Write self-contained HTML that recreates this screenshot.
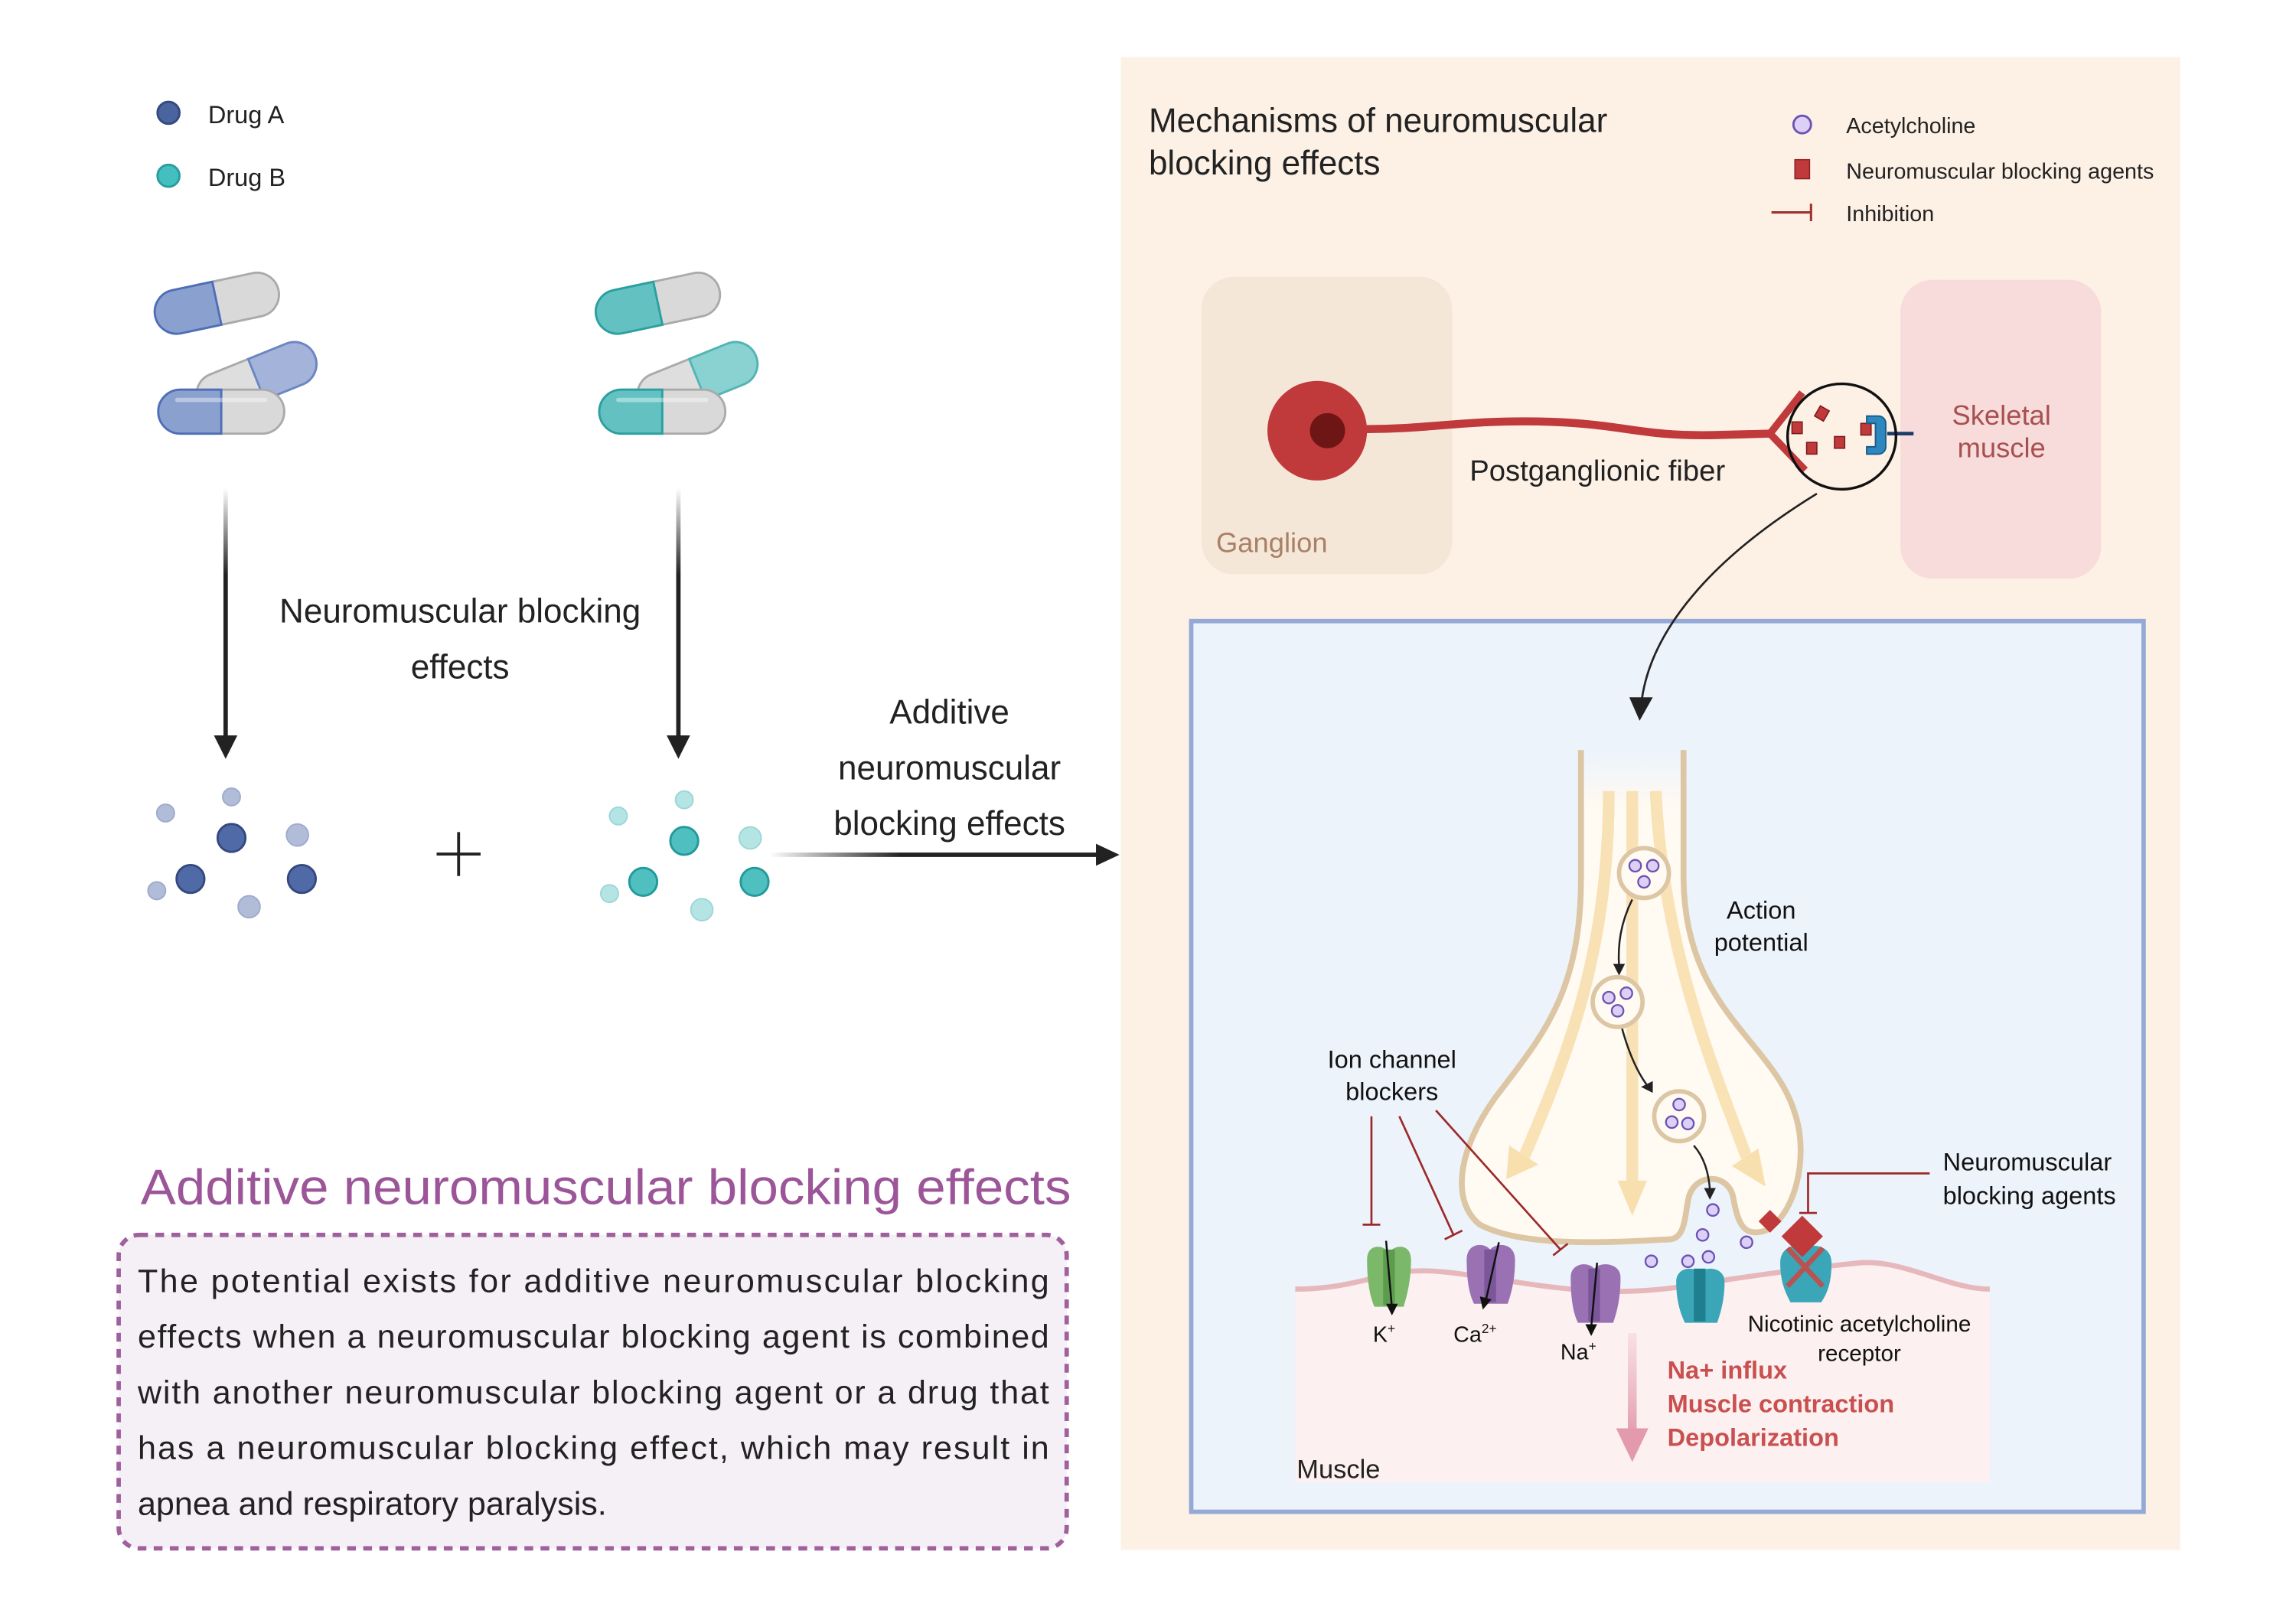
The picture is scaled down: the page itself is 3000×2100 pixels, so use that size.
<!DOCTYPE html>
<html><head><meta charset="utf-8"><style>
html,body{margin:0;padding:0;background:#fff}
svg{display:block}
text{font-family:"Liberation Sans",sans-serif}
</style></head><body>
<svg width="3000" height="2100" viewBox="0 0 1567 1097" preserveAspectRatio="none" xmlns="http://www.w3.org/2000/svg">
<defs>
<linearGradient id="fadeV" x1="0" y1="0" x2="0" y2="1"><stop offset="0" stop-color="#222" stop-opacity="0"/><stop offset="0.35" stop-color="#222"/></linearGradient>
<linearGradient id="fadeH" x1="0" y1="0" x2="1" y2="0"><stop offset="0" stop-color="#222" stop-opacity="0"/><stop offset="0.4" stop-color="#222"/></linearGradient>
<linearGradient id="pinkA" x1="0" y1="0" x2="0" y2="1"><stop offset="0" stop-color="#e7a3b3" stop-opacity="0.2"/><stop offset="1" stop-color="#e29aac"/></linearGradient>
<linearGradient id="axon" x1="0" y1="0" x2="0" y2="1"><stop offset="0" stop-color="#fffaf2" stop-opacity="0"/><stop offset="0.12" stop-color="#fffaf2"/></linearGradient>
</defs>

<circle cx="115" cy="77" r="7.5" fill="#4a64a0" stroke="#34497e" stroke-width="1.5"/>
<text x="142" y="84" font-size="17" fill="#222">Drug A</text>
<circle cx="115" cy="120" r="7.5" fill="#43bfbf" stroke="#2a9c9c" stroke-width="1.5"/>
<text x="142" y="127" font-size="17" fill="#222">Drug B</text>

<g transform="translate(148,207) rotate(-12)">
<rect x="-43" y="-15" width="86" height="30" rx="15" fill="#d9d9d9" stroke="#aaa" stroke-width="1.5"/>
<path d="M0,-15 H-28 A15,15 0 0 0 -28,15 H0 Z" fill="#8aa0cf" stroke="#4e6fb8" stroke-width="1.5"/>
</g>
<g transform="translate(175,259) rotate(-22)">
<rect x="-43" y="-15" width="86" height="30" rx="15" fill="#dedede" stroke="#aaa" stroke-width="1.5"/>
<path d="M0,-15 H28 A15,15 0 0 1 28,15 H0 Z" fill="#a3b3d9" stroke="#6b86c2" stroke-width="1.5"/>
</g>
<g transform="translate(151,281)">
<rect x="-43" y="-15" width="86" height="30" rx="15" fill="#d9d9d9" stroke="#aaa" stroke-width="1.5"/>
<path d="M0,-15 H-28 A15,15 0 0 0 -28,15 H0 Z" fill="#8aa0cf" stroke="#4e6fb8" stroke-width="1.5"/>
<line x1="-30" y1="-8" x2="30" y2="-8" stroke="#fff" stroke-opacity="0.4" stroke-width="3" stroke-linecap="round"/>
</g>
<g transform="translate(449,207) rotate(-12)">
<rect x="-43" y="-15" width="86" height="30" rx="15" fill="#d9d9d9" stroke="#aaa" stroke-width="1.5"/>
<path d="M0,-15 H-28 A15,15 0 0 0 -28,15 H0 Z" fill="#63c1c1" stroke="#2aa0a0" stroke-width="1.5"/>
</g>
<g transform="translate(476,259) rotate(-22)">
<rect x="-43" y="-15" width="86" height="30" rx="15" fill="#dedede" stroke="#aaa" stroke-width="1.5"/>
<path d="M0,-15 H28 A15,15 0 0 1 28,15 H0 Z" fill="#8ad1d1" stroke="#52b5b5" stroke-width="1.5"/>
</g>
<g transform="translate(452,281)">
<rect x="-43" y="-15" width="86" height="30" rx="15" fill="#d9d9d9" stroke="#aaa" stroke-width="1.5"/>
<path d="M0,-15 H-28 A15,15 0 0 0 -28,15 H0 Z" fill="#63c1c1" stroke="#2aa0a0" stroke-width="1.5"/>
<line x1="-30" y1="-8" x2="30" y2="-8" stroke="#fff" stroke-opacity="0.4" stroke-width="3" stroke-linecap="round"/>
</g>

<rect x="152.5" y="333" width="3" height="170" fill="url(#fadeV)"/>
<polygon points="146,502 162,502 154,518" fill="#222"/>
<rect x="461.5" y="333" width="3" height="170" fill="url(#fadeV)"/>
<polygon points="455,502 471,502 463,518" fill="#222"/>
<text x="314" y="425" font-size="23" fill="#222" text-anchor="middle">Neuromuscular blocking</text>
<text x="314" y="463" font-size="23" fill="#222" text-anchor="middle">effects</text>

<g fill="#b0bcd8" stroke="#9eabcc" stroke-width="1">
<circle cx="113" cy="555" r="6"/><circle cx="158" cy="544" r="6"/><circle cx="203" cy="570" r="7.5"/><circle cx="107" cy="608" r="6"/><circle cx="170" cy="619" r="7.5"/></g>
<g fill="#4f6aa6" stroke="#34497e" stroke-width="1.5">
<circle cx="158" cy="572" r="9.5"/><circle cx="130" cy="600" r="9.5"/><circle cx="206" cy="600" r="9.5"/></g>
<path d="M298,583 H328 M313,568 V598" stroke="#222" stroke-width="2"/>
<g fill="#b5e4e4" stroke="#9dd6d6" stroke-width="1">
<circle cx="422" cy="557" r="6"/><circle cx="467" cy="546" r="6"/><circle cx="512" cy="572" r="7.5"/><circle cx="416" cy="610" r="6"/><circle cx="479" cy="621" r="7.5"/></g>
<g fill="#4fbfbf" stroke="#22999a" stroke-width="1.5">
<circle cx="467" cy="574" r="9.5"/><circle cx="439" cy="602" r="9.5"/><circle cx="515" cy="602" r="9.5"/></g>

<rect x="525" y="582" width="225" height="3" fill="url(#fadeH)"/>
<polygon points="748,576 748,591 764,583.5" fill="#222"/>
<text x="648" y="494" font-size="23" fill="#222" text-anchor="middle">Additive</text>
<text x="648" y="532" font-size="23" fill="#222" text-anchor="middle">neuromuscular</text>
<text x="648" y="570" font-size="23" fill="#222" text-anchor="middle">blocking effects</text>

<text x="96" y="822" font-size="34" fill="#9b5598" textLength="635" lengthAdjust="spacingAndGlyphs">Additive neuromuscular blocking effects</text>
<rect x="81" y="843" width="647" height="214" rx="14" fill="#f5eff6" stroke="#a0609c" stroke-width="3" stroke-dasharray="6,5"/>
<g font-size="22.5" fill="#222">
<text x="94" y="882" textLength="622" lengthAdjust="spacing">The potential exists for additive neuromuscular blocking</text>
<text x="94" y="920" textLength="622" lengthAdjust="spacing">effects when a neuromuscular blocking agent is combined</text>
<text x="94" y="958" textLength="622" lengthAdjust="spacing">with another neuromuscular blocking agent or a drug that</text>
<text x="94" y="996" textLength="622" lengthAdjust="spacing">has a neuromuscular blocking effect, which may result in</text>
<text x="94" y="1034">apnea and respiratory paralysis.</text>
</g>

<rect x="765" y="39" width="723" height="1019" fill="#fdf1e6"/>
<text x="784" y="90" font-size="23" fill="#222">Mechanisms of neuromuscular</text>
<text x="784" y="119" font-size="23" fill="#222">blocking effects</text>
<circle cx="1230" cy="85" r="6" fill="#ddd0f7" stroke="#6b52b3" stroke-width="1.5"/>
<text x="1260" y="91" font-size="15" fill="#222">Acetylcholine</text>
<rect x="1225" y="109" width="10" height="13" fill="#c0393b" stroke="#8c2020" stroke-width="0.8"/>
<text x="1260" y="122" font-size="15" fill="#222">Neuromuscular blocking agents</text>
<path d="M1209,145 H1236 M1236,139 V151" stroke="#a03030" stroke-width="1.6" fill="none"/>
<text x="1260" y="151" font-size="15" fill="#222">Inhibition</text>

<rect x="820" y="189" width="171" height="203" rx="22" fill="#f4e7d7"/>
<text x="830" y="377" font-size="19" fill="#a98067">Ganglion</text>
<rect x="1297" y="191" width="137" height="204" rx="22" fill="#f8dcdc"/>
<text x="1366" y="290" font-size="19" fill="#a85050" text-anchor="middle">Skeletal</text>
<text x="1366" y="312" font-size="19" fill="#a85050" text-anchor="middle">muscle</text>

<ellipse cx="899" cy="294" rx="34" ry="34" fill="#c0393b"/>
<circle cx="906" cy="294" r="12" fill="#6e1515"/>
<path d="M930,293 C980,293 1000,286 1060,288 C1110,290 1120,298 1170,297 L1208,296" stroke="#c0393b" stroke-width="5.5" fill="none"/>
<path d="M1230,268 L1208,296 L1232,321" stroke="#c0393b" stroke-width="5" fill="none"/>
<text x="1003" y="328" font-size="20" fill="#222">Postganglionic fiber</text>
<g fill="#c0393b" stroke="#7a1a1a" stroke-width="0.8">
<rect x="1223" y="288" width="7" height="8"/><rect x="1240" y="278" width="7" height="8" transform="rotate(30 1243 282)"/>
<rect x="1233" y="302" width="7" height="8"/><rect x="1252" y="298" width="7" height="8"/><rect x="1270" y="289" width="7" height="8"/></g>
<path d="M1274,284 h8 a5,5 0 0 1 5,5 v16 a5,5 0 0 1 -5,5 h-8 v-5 h6 v-16 h-6 z" fill="#2e88c0" stroke="#1c5a85" stroke-width="1"/>
<line x1="1288" y1="296" x2="1306" y2="296" stroke="#1c3e66" stroke-width="2.5"/>
<ellipse cx="1257" cy="298" rx="37" ry="36" fill="none" stroke="#111" stroke-width="1.8"/>

<rect x="813" y="424" width="650" height="608" fill="#edf3fb" stroke="#94a9d6" stroke-width="3"/>
<path d="M1240,337 C1170,380 1125,430 1120,482" stroke="#222" stroke-width="1.4" fill="none"/>
<polygon points="1112,476 1128,476 1119,492" fill="#222"/>

<path d="M884,880 C920,880 940,870 960,868 C980,866 1000,870 1040,876 C1080,882 1110,884 1150,878 C1200,870 1240,865 1270,862 C1300,860 1330,880 1358,880 L1358,1012 L884,1012 Z" fill="#fcf0f1"/>
<path d="M884,880 C920,880 940,870 960,868 C980,866 1000,870 1040,876 C1080,882 1110,884 1150,878 C1200,870 1240,865 1270,862 C1300,860 1330,880 1358,880" fill="none" stroke="#e6b7bb" stroke-width="3.5"/>
<text x="885" y="1009" font-size="18" fill="#222">Muscle</text>

<path d="M1079,512 L1079,600 C1079,680 1050,710 1020,750 C995,785 990,820 1010,836 C1040,852 1100,848 1140,846 C1150,845 1150,830 1152,820 C1155,800 1180,800 1183,818 C1186,835 1190,845 1205,840 C1225,830 1235,790 1225,760 C1210,710 1150,690 1149,600 L1149,512 Z" fill="url(#axon)"/>
<path d="M1079,512 L1079,600 C1079,680 1050,710 1020,750 C995,785 990,820 1010,836 C1040,852 1100,848 1140,846 C1150,845 1150,830 1152,820 C1155,800 1180,800 1183,818 C1186,835 1190,845 1205,840 C1225,830 1235,790 1225,760 C1210,710 1150,690 1149,600 L1149,512" fill="none" stroke="#dcc6a4" stroke-width="4"/>
<g stroke="#f8dfae" stroke-width="8" fill="none" opacity="0.9">
<path d="M1098,540 C1098,650 1070,720 1040,790"/>
<path d="M1114,540 L1114,810"/>
<path d="M1130,540 C1135,650 1170,730 1192,790"/>
</g>
<g fill="#f8dfae">
<polygon points="1028,805 1030,782 1050,795"/><polygon points="1104,806 1124,806 1114,830"/><polygon points="1205,810 1182,796 1200,784"/></g>
<g stroke="#222" stroke-width="1.3" fill="none">
<path d="M1114,614 C1106,630 1104,645 1105,660"/><path d="M1107,702 C1112,720 1118,733 1125,742"/><path d="M1156,782 C1163,790 1166,800 1167,812"/></g>
<g fill="#222"><polygon points="1101,658 1109,658 1105,666"/><polygon points="1120,742 1128,738 1128,746"/><polygon points="1163,811 1171,811 1167,819"/></g>
<g fill="#fffaf2" stroke="#dcc6a4" stroke-width="3">
<circle cx="1122" cy="596" r="17"/><circle cx="1104" cy="684" r="17"/><circle cx="1146" cy="762" r="17"/></g>
<g fill="#ddd0f7" stroke="#6b52b3" stroke-width="1.2">
<circle cx="1116" cy="591" r="4"/><circle cx="1128" cy="591" r="4"/><circle cx="1122" cy="602" r="4"/>
<circle cx="1098" cy="681" r="4"/><circle cx="1110" cy="678" r="4"/><circle cx="1104" cy="690" r="4"/>
<circle cx="1146" cy="754" r="4"/><circle cx="1141" cy="766" r="4"/><circle cx="1152" cy="767" r="4"/>
<circle cx="1169" cy="826" r="4"/><circle cx="1162" cy="843" r="4"/><circle cx="1192" cy="848" r="4"/><circle cx="1127" cy="861" r="4"/><circle cx="1152" cy="861" r="4"/><circle cx="1166" cy="858" r="4"/></g>

<text x="1202" y="627" font-size="17" fill="#111" text-anchor="middle">Action</text>
<text x="1202" y="649" font-size="17" fill="#111" text-anchor="middle">potential</text>

<g><path d="M933,860 C933,848 945,850 948,855 C951,850 963,848 963,860 C963,875 960,885 958,892 L938,892 C935,885 933,875 933,860Z" fill="#7cb86a"/><rect x="944" y="853" width="8" height="38" fill="#5d9c4d"/></g>
<g><path d="M1001,860 C1001,848 1013,848 1017,853 C1021,848 1034,848 1034,860 C1034,875 1031,884 1029,890 L1006,890 C1003,884 1001,875 1001,860Z" fill="#9a72b4"/><rect x="1013" y="853" width="8" height="36" fill="#7b569a"/></g>
<g><path d="M1072,872 C1072,862 1084,861 1088,866 C1092,861 1106,862 1106,872 C1106,888 1103,897 1101,903 L1077,903 C1074,897 1072,888 1072,872Z" fill="#9a72b4"/><rect x="1084" y="866" width="8" height="36" fill="#7b569a"/></g>
<g><path d="M1144,875 C1144,865 1156,864 1160,869 C1164,864 1177,865 1177,875 C1177,888 1174,897 1172,903 L1150,903 C1147,897 1144,888 1144,875Z" fill="#3aa6b8"/><rect x="1156" y="866" width="8" height="36" fill="#1f7f8f"/></g>
<g><path d="M1215,862 C1215,850 1228,848 1232,853 C1236,848 1250,850 1250,862 C1250,876 1247,883 1243,889 L1222,889 C1219,883 1215,876 1215,862Z" fill="#3aa6b8"/></g>
<rect x="1220" y="834" width="20" height="20" fill="#c0393b" transform="rotate(45 1230 844)"/>
<rect x="1203" y="828" width="11" height="11" fill="#c0393b" transform="rotate(45 1208 833)"/>
<path d="M1220,852 L1244,878 M1244,852 L1220,878" stroke="#d0443f" stroke-width="3.5" stroke-opacity="0.85"/>
<g stroke="#111" stroke-width="1.3"><line x1="946" y1="847" x2="950" y2="893"/><line x1="1023" y1="848" x2="1014" y2="888"/><line x1="1090" y1="862" x2="1086" y2="906"/></g>
<g fill="#111"><polygon points="946,890 954,890 950,898"/><polygon points="1010,885 1018,887 1012,894"/><polygon points="1082,904 1090,904 1086,912"/></g>
<g font-size="15" fill="#111">
<text x="937" y="916">K<tspan font-size="9" dy="-6">+</tspan></text>
<text x="992" y="916">Ca<tspan font-size="9" dy="-6">2+</tspan></text>
<text x="1065" y="928">Na<tspan font-size="9" dy="-6">+</tspan></text></g>

<text x="950" y="729" font-size="17" fill="#111" text-anchor="middle">Ion channel</text>
<text x="950" y="751" font-size="17" fill="#111" text-anchor="middle">blockers</text>
<g stroke="#9c2a2a" stroke-width="1.4" fill="none">
<path d="M936,762 V836 M930,836 H942"/>
<path d="M955,762 L992,843 M986,846 L998,840"/>
<path d="M980,758 L1065,853 M1060,857 L1070,849"/>
<path d="M1317,801 H1234 V828 M1228,828 H1240"/></g>
<text x="1326" y="799" font-size="17" fill="#111">Neuromuscular</text>
<text x="1326" y="822" font-size="17" fill="#111">blocking agents</text>
<text x="1269" y="909" font-size="15.5" fill="#111" text-anchor="middle">Nicotinic acetylcholine</text>
<text x="1269" y="929" font-size="15.5" fill="#111" text-anchor="middle">receptor</text>

<rect x="1111" y="910" width="6" height="72" fill="url(#pinkA)"/>
<polygon points="1103,975 1125,975 1114,998" fill="#e29aac"/>
<g font-size="17" fill="#c9504f" font-weight="bold">
<text x="1138" y="941">Na+ influx</text>
<text x="1138" y="964">Muscle contraction</text>
<text x="1138" y="987">Depolarization</text></g>
</svg>
</body></html>
